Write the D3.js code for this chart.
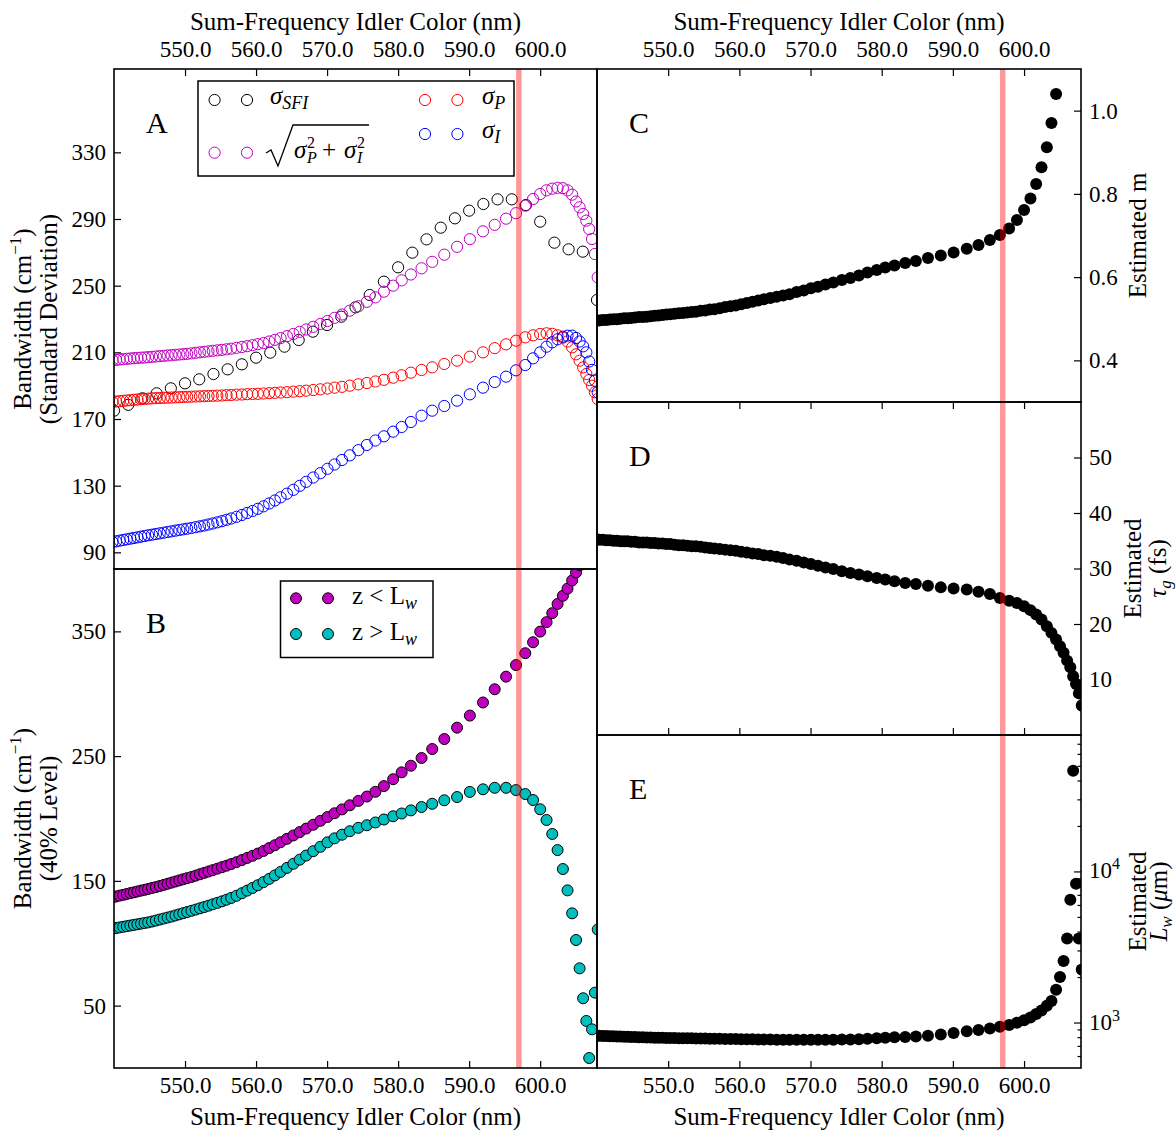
<!DOCTYPE html>
<html>
<head>
<meta charset="utf-8">
<script src="https://cdn.jsdelivr.net/npm/d3@7"></script>
<style>
body { margin: 0; background: #fff; }
svg { display: block; }
text { font-family: "Liberation Serif", "DejaVu Serif", serif; fill: #000; }
</style>
</head>
<body>
<div id="chart"></div>
<script>
const width = 1176;
const height = 1132;

// x axis (shared by every panel)
const xDomain = [540, 608];
const xTicks = [550, 560, 570, 580, 590, 600];
const markNm = 597.0;   // red marker line

// idler wavelength of each point (nm)
const idlerNm = [
  539.8, 540.3, 540.8, 541.3, 541.8, 542.3, 542.8, 543.3, 543.8, 544.3, 544.8,
  545.35, 545.9, 546.45, 547.0, 547.55, 548.1, 548.65, 549.2, 549.75, 550.3,
  550.9, 551.5, 552.1, 552.7, 553.3, 553.9,
  554.55, 555.2, 555.85, 556.5,
  557.25, 558.0, 558.75, 559.5, 560.25,
  561.05, 561.85, 562.65, 563.45,
  564.35, 565.25, 566.15, 567.05,
  568.05, 569.05, 570.05, 571.05,
  572.1, 573.2, 574.4, 575.6, 576.8,
  578.0, 579.3, 580.5, 581.8, 583.3, 584.8, 586.5, 588.3, 590.1,
  591.95, 593.6, 595.2, 596.6,
  597.9, 599.0, 600.0, 600.9, 601.7, 602.45, 603.2, 603.85, 604.5,
  605.05, 605.55, 606.05, 606.5, 606.9, 607.3, 607.7, 608.1
];

// panel A: sigma_SFI has its own, coarser sampling
const sfiNm = [540, 542, 544, 546, 548, 550, 552, 554, 556, 558, 560, 562, 564, 566, 568, 570, 572, 574,
  576, 578, 580, 582, 584, 586, 588, 590, 592, 594, 596, 598, 600, 602, 604, 606, 608];
const sigmaSFI = [175.0, 178.5, 182.4, 185.4, 188.4, 191.4, 193.8, 197.0, 199.8, 202.8, 206.8, 209.8,
  213.4, 217.4, 222.4, 226.4, 231.4, 237.0, 244.4, 252.4, 261.0, 269.8, 277.8, 284.8, 290.4, 295.0,
  299.0, 301.8, 301.8, 298.4, 288.4, 275.8, 271.8, 270.4, 241.4];

const sigmaQuad = [
  205.2, 205.5, 205.7, 205.9, 206.1, 206.3, 206.5, 206.6, 206.8, 206.9, 207.1,
  207.3, 207.5, 207.7, 207.9, 208.1, 208.3, 208.5, 208.7, 208.9, 209.1,
  209.4, 209.7, 210.0, 210.3, 210.6, 210.9,
  211.2, 211.5, 211.8, 212.2,
  212.7, 213.2, 213.7, 214.3, 214.9,
  215.6, 216.5, 217.5, 218.5,
  219.7, 221.0, 222.3, 223.7,
  225.3, 227.0, 228.8, 230.7,
  232.7, 235.0, 237.6, 240.3, 243.0,
  246.4, 250.0, 253.2, 256.7, 260.4, 264.3, 268.6, 273.3, 277.9,
  282.6, 286.5, 290.2, 293.5,
  298.0, 302.0, 305.0, 307.2, 308.2, 308.7, 308.5, 307.2, 304.6,
  300.5, 297.0, 293.0, 289.0, 284.0, 278.0, 269.0, 255.0
];

const sigmaP = [
  180.3, 180.5, 180.7, 180.9, 181.1, 181.3, 181.5, 181.7, 181.9, 182.1, 182.2,
  182.4, 182.5, 182.6, 182.7, 182.8, 182.9, 183.0, 183.1, 183.2, 183.3,
  183.4, 183.5, 183.6, 183.7, 183.8, 183.9,
  184.0, 184.1, 184.3, 184.4,
  184.6, 184.7, 184.9, 185.0, 185.1,
  185.3, 185.5, 185.7, 185.9,
  186.1, 186.4, 186.7, 187.0,
  187.4, 187.8, 188.3, 188.8,
  189.3, 190.0, 190.8, 191.6, 192.5,
  193.5, 194.8, 196.2, 197.8, 199.4, 201.0, 203.0, 205.0, 207.4,
  210.0, 212.5, 214.8, 217.0,
  219.0, 220.2, 221.0, 221.4, 221.1, 220.2, 218.8, 216.5, 213.0,
  208.8, 205.0, 201.0, 197.0, 193.4, 190.0, 186.0, 182.0
];

const sigmaI = [
  96.2, 96.6, 97.0, 97.4, 97.8, 98.2, 98.6, 99.0, 99.4, 99.8, 100.2,
  100.6, 101.0, 101.4, 101.8, 102.2, 102.6, 103.0, 103.4, 103.8, 104.2,
  104.6, 105.1, 105.6, 106.1, 106.7, 107.3,
  108.0, 108.7, 109.5, 110.3,
  111.3, 112.4, 113.6, 114.8, 116.1,
  117.6, 119.3, 121.1, 123.0,
  125.2, 127.5, 129.9, 132.3,
  134.9, 137.5, 140.1, 142.7,
  145.4, 148.2, 151.3, 154.4, 157.1,
  159.6, 162.4, 165.2, 168.2, 172.0, 175.0, 177.8, 181.0, 184.8,
  188.8, 192.2, 195.4, 199.2,
  202.4, 206.4, 210.0, 213.4, 216.0, 217.8, 219.4, 220.0, 220.0,
  218.6, 216.5, 213.6, 210.0, 204.5, 199.5, 193.0, 186.0
];

// panel B: 40% level bandwidth
const bwBelow = [
  136.8, 137.5, 138.2, 138.8, 139.5, 140.2, 140.8, 141.5, 142.2, 142.8, 143.5,
  144.3, 145.0, 145.9, 146.8, 147.7, 148.6, 149.5, 150.4, 151.3, 152.2,
  153.1, 154.2, 155.3, 156.4, 157.5, 158.6,
  159.8, 161.0, 162.2, 163.5,
  165.0, 166.7, 168.4, 170.1, 171.9,
  174.0, 176.3, 178.6, 181.0,
  183.7, 186.4, 189.1, 191.9,
  195.0, 198.1, 201.2, 204.2,
  207.3, 210.6, 214.1, 217.6, 221.4,
  226.0, 231.5, 237.0, 242.3, 248.5, 255.7, 263.7, 272.8, 282.5,
  293.0, 303.6, 313.7, 323.0,
  332.5, 341.3, 349.8, 357.4, 364.6, 372.0, 378.5, 384.3, 390.8,
  397.2, 403.0, 409.0, 415.0, 421.0, 427.0, 433.0, 440.0
];

const bwAbove = [
  111.7, 112.2, 112.7, 113.2, 113.7, 114.2, 114.7, 115.2, 115.7, 116.2, 116.7,
  117.4, 118.2, 119.0, 119.8, 120.6, 121.4, 122.3, 123.2, 124.1, 125.0,
  126.0, 127.0, 128.0, 129.0, 130.1, 131.2,
  132.4, 133.6, 134.9, 136.3,
  138.1, 140.1, 142.2, 144.3, 146.5,
  149.0, 151.6, 154.4, 157.2,
  160.4, 163.7, 167.0, 170.3,
  173.8, 177.3, 180.9, 184.1,
  187.0, 189.8, 192.5, 194.6, 196.8,
  199.2, 201.8, 204.0, 206.5, 209.2, 211.8, 214.6, 217.2, 221.3,
  223.4, 224.6, 224.6, 222.8,
  219.6, 214.8, 207.4, 198.8, 187.6, 174.7, 159.5, 142.4, 124.0,
  102.6, 79.9, 55.9, 37.7, 8.0, 31.0, 60.4, 111.0
];

// panel C: estimated m
const estM = [
  0.495, 0.496, 0.497, 0.497, 0.498, 0.499, 0.499, 0.500, 0.501, 0.501, 0.502,
  0.503, 0.504, 0.504, 0.505, 0.506, 0.507, 0.508, 0.509, 0.510, 0.511,
  0.512, 0.513, 0.514, 0.515, 0.516, 0.517,
  0.519, 0.520, 0.522, 0.523,
  0.525, 0.528, 0.530, 0.532, 0.535,
  0.538, 0.541, 0.544, 0.547,
  0.550, 0.553, 0.556, 0.559,
  0.564, 0.568, 0.573, 0.577,
  0.582, 0.587, 0.593, 0.598, 0.604,
  0.611, 0.617, 0.623, 0.628, 0.634, 0.639, 0.646, 0.652, 0.659,
  0.668, 0.677, 0.689, 0.701,
  0.717, 0.737, 0.761, 0.789, 0.824, 0.864, 0.912, 0.970, 1.040,
  null, null, null, null, null, null, null, null
];

// panel D: estimated tau_g (fs)
const estTau = [
  35.3, 35.2, 35.2, 35.1, 35.1, 35.0, 35.0, 34.9, 34.9, 34.9, 34.8,
  34.8, 34.7, 34.7, 34.7, 34.6, 34.6, 34.5, 34.5, 34.4, 34.4,
  34.3, 34.2, 34.2, 34.1, 34.0, 34.0,
  33.9, 33.8, 33.7, 33.6,
  33.5, 33.4, 33.3, 33.2, 33.0,
  32.9, 32.7, 32.6, 32.4,
  32.3, 32.1, 31.9, 31.6,
  31.4, 31.1, 30.8, 30.5,
  30.2, 29.9, 29.5, 29.2, 28.9,
  28.6, 28.3, 28.0, 27.7, 27.4, 27.2, 26.9, 26.6, 26.4,
  26.2, 25.8, 25.4, 24.7,
  24.2, 23.8, 23.2, 22.5, 21.7, 20.8, 19.6, 18.4, 17.2,
  16.0, 14.8, 13.4, 12.2, 10.6, 9.2, 7.5, 5.3
];

// panel E: estimated L_w (um), log axis
const estLw = [
  818, 816, 814, 813, 811, 810, 808, 807, 805, 804, 802,
  801, 799, 798, 797, 795, 794, 793, 792, 791, 790,
  789, 788, 787, 786, 786, 785,
  784, 783, 782, 781,
  780, 779, 778, 777, 776,
  775, 774, 773, 772,
  771, 770, 769, 769,
  768, 768, 768, 769,
  769, 770, 771, 773, 776,
  780, 786, 792, 798, 803, 808, 818, 833, 853,
  875, 892, 913, 937,
  962, 995, 1035, 1080, 1140, 1200, 1290, 1390, 1650,
  2000, 2550, 3600, 6500, 46400, 8300, 3600, 2240
];

const aTicks = [90, 130, 170, 210, 250, 290, 330];
const bTicks = [50, 150, 250, 350];
const cTicks = [0.4, 0.6, 0.8, 1.0];
const dTicks = [10, 20, 30, 40, 50];
const eMajor = [1000, 10000];
const eMinor = [600, 700, 800, 900, 2000, 3000, 4000, 5000, 6000, 7000, 8000, 9000,
  20000, 30000, 40000, 50000, 60000, 70000];

const svg = d3.select("#chart")
    .append("svg")
    .attr("width", width)
    .attr("height", height);

const plotLayer = svg.append("g");
const frameLayer = svg.append("g");
const topLayer = svg.append("g");

const leftX = 114, midX = 597, rightX = 1081;
const topY = 69, midY = 569, bottomY = 1068, cdY = 402, deY = 735;

const xL = d3.scaleLinear().domain(xDomain).range([leftX, midX]);
const xR = d3.scaleLinear().domain(xDomain).range([midX, rightX]);

function panel(name, x, y) {
    const [x0, x1] = x.range();
    const [y1, y0] = y.range();
    svg.append("clipPath").attr("id", "clip-" + name)
        .append("rect").attr("x", x0).attr("y", y0).attr("width", x1 - x0).attr("height", y1 - y0);
    const plot = plotLayer.append("g").attr("clip-path", `url(#clip-${name})`);
    return {name, x, y, x0, x1, y0, y1, plot};
}

const pA = panel("A", xL, d3.scaleLinear().domain([80, 380]).range([midY, topY]));
const pB = panel("B", xL, d3.scaleLinear().domain([0, 400]).range([bottomY, midY]));
const pC = panel("C", xR, d3.scaleLinear().domain([0.3, 1.1]).range([cdY, topY]));
const pD = panel("D", xR, d3.scaleLinear().domain([0, 60]).range([deY, cdY]));
const pE = panel("E", xR, d3.scaleLog().domain([500, 80000]).range([bottomY, deY]));

function scatter(p, xs, ys, st) {
    p.plot.append("g").selectAll("circle")
        .data(d3.zip(xs, ys).filter(d => d[1] != null))
        .join("circle")
        .attr("cx", d => p.x(d[0]))
        .attr("cy", d => p.y(d[1]))
        .attr("r", st.r)
        .attr("fill", st.fill)
        .attr("stroke", st.stroke)
        .attr("stroke-width", st.sw);
}

const open = c => ({r: 5.6, fill: "none", stroke: c, sw: 1});
const filled = c => ({r: 5.5, fill: c, stroke: "#000", sw: 1});
const dot = {r: 6, fill: "#000", stroke: "none", sw: 0};

scatter(pA, sfiNm, sigmaSFI, open("#000"));
scatter(pA, idlerNm, sigmaQuad, open("#bf00bf"));
scatter(pA, idlerNm, sigmaP, open("#ff0000"));
scatter(pA, idlerNm, sigmaI, open("#0000ff"));
scatter(pB, idlerNm, bwBelow, filled("#bf00bf"));
scatter(pB, idlerNm, bwAbove, filled("#00bfbf"));
scatter(pC, idlerNm, estM, dot);
scatter(pD, idlerNm, estTau, dot);
scatter(pE, idlerNm, estLw, dot);

// red marker line, drawn over the points
[pA, pB, pC, pD, pE].forEach(p => {
    p.plot.append("line")
        .attr("x1", p.x(markNm)).attr("x2", p.x(markNm))
        .attr("y1", p.y0).attr("y2", p.y1)
        .attr("stroke", "rgba(255,0,0,0.4)")
        .attr("stroke-width", 5.5);
});

// axes
function styleAxis(g) {
    g.select(".domain").remove();
    g.attr("font-size", 23).attr("font-family", null);
    g.selectAll("line").attr("stroke", "#000").attr("stroke-width", 1.2);
}

function xAxis(p, side, withLabels) {
    const ax = (side === "top" ? d3.axisTop(p.x) : d3.axisBottom(p.x))
        .tickValues(xTicks).tickSize(-7).tickSizeOuter(0)
        .tickPadding(side === "top" ? 12 : 9)
        .tickFormat(withLabels ? d3.format(".1f") : "");
    const g = frameLayer.append("g")
        .attr("transform", `translate(0,${side === "top" ? p.y0 : p.y1})`)
        .call(ax);
    styleAxis(g);
}

function yAxis(p, side, ticks, fmt) {
    const ax = (side === "left" ? d3.axisLeft(p.y) : d3.axisRight(p.y))
        .tickValues(ticks).tickSize(-7).tickSizeOuter(0).tickPadding(8)
        .tickFormat(fmt);
    const g = frameLayer.append("g")
        .attr("transform", `translate(${side === "left" ? p.x0 : p.x1},0)`)
        .call(ax);
    styleAxis(g);
    return g;
}

xAxis(pA, "top", true);
xAxis(pB, "bottom", true);
xAxis(pC, "top", true);
xAxis(pD, "top", false);
xAxis(pD, "bottom", false);
xAxis(pE, "bottom", true);

yAxis(pA, "left", aTicks, d3.format("d"));
yAxis(pB, "left", bTicks, d3.format("d"));
yAxis(pC, "right", cTicks, d3.format(".1f"));
yAxis(pD, "right", dTicks, d3.format("d"));
yAxis(pE, "right", eMajor, () => "");
const eMinorAx = d3.axisRight(pE.y).tickValues(eMinor).tickSize(-3.5).tickSizeOuter(0).tickFormat(() => "");
styleAxis(frameLayer.append("g").attr("transform", `translate(${pE.x1},0)`).call(eMinorAx));

eMajor.forEach(v => {
    const t = frameLayer.append("text")
        .attr("x", pE.x1 + 8).attr("y", pE.y(v) + 7)
        .attr("font-size", 23).text("10");
    t.append("tspan").attr("font-size", 16).attr("dy", -9).text(Math.round(Math.log10(v)));
});

// frames
[pA, pB, pC, pD, pE].forEach(p => {
    frameLayer.append("rect")
        .attr("x", p.x0).attr("y", p.y0)
        .attr("width", p.x1 - p.x0).attr("height", p.y1 - p.y0)
        .attr("fill", "none").attr("stroke", "#000").attr("stroke-width", 1.6);
});

// text helper: parts of {t, size, italic, dy}
function label(g, x, y, parts, anchor) {
    const t = g.append("text").attr("x", x).attr("y", y)
        .attr("text-anchor", anchor || "start");
    let shift = 0;
    parts.forEach(p => {
        const s = t.append("tspan").text(p.t).attr("font-size", p.size || 25);
        if (p.italic) s.attr("font-style", "italic");
        const want = p.dy || 0;
        if (want !== shift) { s.attr("dy", want - shift); shift = want; }
    });
    return t;
}

function rotLabel(x, y, parts) {
    label(topLayer, 0, 0, parts, "middle").attr("transform", `translate(${x},${y}) rotate(-90)`);
}

// axis titles
const xTitle = "Sum-Frequency Idler Color (nm)";
label(topLayer, (leftX + midX) / 2, 30, [{t: xTitle}], "middle");
label(topLayer, (midX + rightX) / 2, 30, [{t: xTitle}], "middle");
label(topLayer, (leftX + midX) / 2, 1125, [{t: xTitle}], "middle");
label(topLayer, (midX + rightX) / 2, 1125, [{t: xTitle}], "middle");

const bwParts = [{t: "Bandwidth (cm"}, {t: "\u22121", size: 17, dy: -10}, {t: ")"}];
rotLabel(31, (topY + midY) / 2, bwParts);
rotLabel(57, (topY + midY) / 2, [{t: "(Standard Deviation)"}]);
rotLabel(31, (midY + bottomY) / 2, bwParts);
rotLabel(57, (midY + bottomY) / 2, [{t: "(40% Level)"}]);

rotLabel(1146, (topY + cdY) / 2, [{t: "Estimated m"}]);
rotLabel(1141, (cdY + deY) / 2, [{t: "Estimated"}]);
rotLabel(1166, (cdY + deY) / 2, [{t: "\u03c4", italic: true}, {t: "g", size: 17, italic: true, dy: 5}, {t: " (fs)"}]);
rotLabel(1146, (deY + bottomY) / 2, [{t: "Estimated"}]);
rotLabel(1167, (deY + bottomY) / 2, [{t: "L", italic: true}, {t: "w", size: 17, italic: true, dy: 5},
    {t: " ("}, {t: "\u03bc", italic: true}, {t: "m)"}]);

// panel letters
[["A", pA], ["B", pB], ["C", pC], ["D", pD], ["E", pE]].forEach(([k, p]) => {
    label(topLayer, p.x0 + 32, p.y0 + 64, [{t: k, size: 30}]);
});

// legend A
const legA = topLayer.append("g");
legA.append("rect").attr("x", 198).attr("y", 81).attr("width", 316).attr("height", 95)
    .attr("fill", "#fff").attr("stroke", "#000").attr("stroke-width", 1.5);
[["#000", 214.6, 100], ["#bf00bf", 214.6, 152.7], ["#ff0000", 425, 100], ["#0000ff", 425, 134]]
    .forEach(([c, x, y]) => {
        [x, x + 32.4].forEach(cx => legA.append("circle").attr("cx", cx).attr("cy", y).attr("r", 5.6)
            .attr("fill", "none").attr("stroke", c).attr("stroke-width", 1));
    });
label(legA, 270, 104, [{t: "\u03c3", italic: true, size: 25}, {t: "SFI", italic: true, size: 18, dy: 5}]);
label(legA, 482, 104, [{t: "\u03c3", italic: true, size: 25}, {t: "P", italic: true, size: 18, dy: 5}]);
label(legA, 482, 138, [{t: "\u03c3", italic: true, size: 25}, {t: "I", italic: true, size: 18, dy: 5}]);
legA.append("path").attr("d", "M266,153 L271,150 L278,166 L293,125 L369,125")
    .attr("fill", "none").attr("stroke", "#000").attr("stroke-width", 1.3);
label(legA, 294, 158, [{t: "\u03c3", italic: true, size: 25}]);
label(legA, 307, 148, [{t: "2", size: 16}]);
label(legA, 307, 163, [{t: "P", italic: true, size: 16}]);
label(legA, 329, 158, [{t: "+", size: 25}], "middle");
label(legA, 344, 158, [{t: "\u03c3", italic: true, size: 25}]);
label(legA, 357, 148, [{t: "2", size: 16}]);
label(legA, 357, 163, [{t: "I", italic: true, size: 16}]);

// legend B
const legB = topLayer.append("g");
legB.append("rect").attr("x", 280.5).attr("y", 581).attr("width", 152.5).attr("height", 76.5)
    .attr("fill", "#fff").attr("stroke", "#000").attr("stroke-width", 1.5);
[["#bf00bf", 598.3], ["#00bfbf", 634]].forEach(([c, y]) => {
    [296, 328].forEach(cx => legB.append("circle").attr("cx", cx).attr("cy", y).attr("r", 5.5)
        .attr("fill", c).attr("stroke", "#000").attr("stroke-width", 1));
});
label(legB, 352, 604, [{t: "z < L", size: 25}, {t: "w", italic: true, size: 18, dy: 5}]);
label(legB, 352, 640, [{t: "z > L", size: 25}, {t: "w", italic: true, size: 18, dy: 5}]);
</script>
</body>
</html>
